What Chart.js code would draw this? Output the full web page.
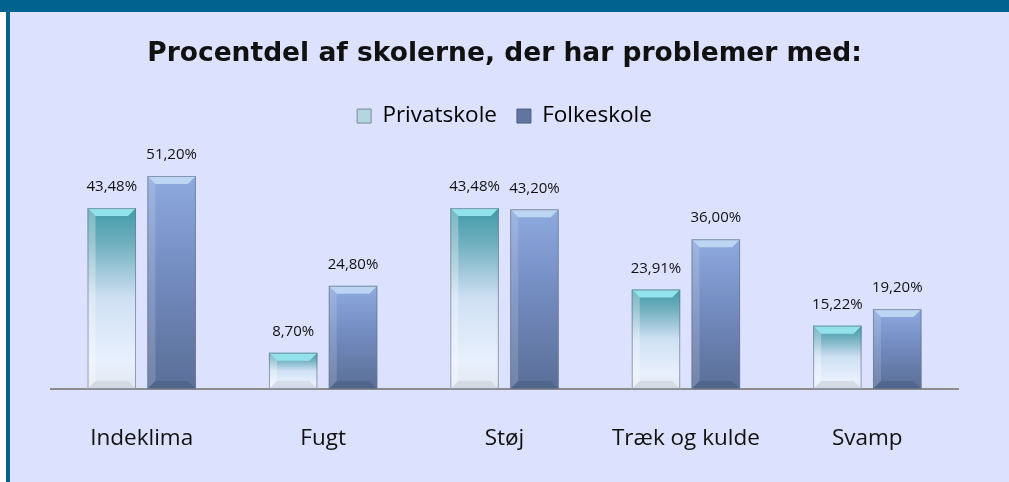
<!DOCTYPE html>
<html>
<head>
<meta charset="utf-8">
<script src="https://cdn.jsdelivr.net/npm/chart.js@4"></script>
<style>
  html, body { margin: 0; padding: 0; background: #fff; overflow: hidden; }
  #topbar { position: absolute; left: 0; top: 0; width: 1009px; height: 12px; background: #01618f; z-index: 2; }
  #leftbar { position: absolute; left: 6px; top: 0; width: 4px; height: 482px; background: #01618f; }
  #panel { position: absolute; left: 10px; top: 12px; width: 999px; height: 470px; background: #dce1fd; overflow: hidden; }
</style>
</head>
<body>
<div id="topbar"></div>
<div id="leftbar"></div>
<div id="panel"><canvas id="chart" width="999" height="476"></canvas></div>
<script>
const categories = ['Indeklima', 'Fugt', 'Støj', 'Træk og kulde', 'Svamp'];
const privatskole = [43.48, 8.70, 43.48, 23.91, 15.22];
const folkeskole = [51.20, 24.80, 43.20, 36.00, 19.20];
const seriesNames = ['Privatskole', 'Folkeskole'];

const FONT = '"Open Sans", sans-serif';

// per-bar vertical gradients, from the bar top down to the baseline
function privatFill(ctx) {
  const chart = ctx.chart;
  const y = chart.scales.y;
  if (!y || ctx.parsed === undefined) return '#8fbccb';
  const top = y.getPixelForValue(ctx.parsed.y);
  const base = y.getPixelForValue(0);
  const g = chart.ctx.createLinearGradient(0, top, 0, base);
  g.addColorStop(0, '#3f9aa8');
  g.addColorStop(0.2, '#72b0c0');
  g.addColorStop(0.5, '#cfe0f3');
  g.addColorStop(0.85, '#e8f0fd');
  g.addColorStop(1, '#e2e8f0');
  return g;
}

function folkeFill(ctx) {
  const chart = ctx.chart;
  const y = chart.scales.y;
  if (!y || ctx.parsed === undefined) return '#6f86b6';
  const top = y.getPixelForValue(ctx.parsed.y);
  const base = y.getPixelForValue(0);
  const g = chart.ctx.createLinearGradient(0, top, 0, base);
  g.addColorStop(0, '#8eaadf');
  g.addColorStop(0.5, '#7189bd');
  g.addColorStop(1, '#5a6f97');
  return g;
}

const capColors = [
  { top: '#92e2ec', side: 'rgba(255,255,255,0.3)', bottom: 'rgba(180,188,200,0.35)' },
  { top: '#bcd5f3', side: 'rgba(255,255,255,0.15)', bottom: 'rgba(60,75,110,0.3)' }
];

// bevel look on each bar
const bevelPlugin = {
  id: 'bevel',
  afterDatasetsDraw(chart) {
    const c = chart.ctx;
    chart.data.datasets.forEach((ds, di) => {
      const meta = chart.getDatasetMeta(di);
      meta.data.forEach(bar => {
        const l = bar.x - bar.width / 2, r = bar.x + bar.width / 2;
        const t = bar.y, b = bar.base;
        const d = Math.min(8, (b - t) / 3);
        c.save();
        c.fillStyle = capColors[di].top;
        c.beginPath();
        c.moveTo(l, t); c.lineTo(r, t); c.lineTo(r - d, t + d); c.lineTo(l + d, t + d);
        c.closePath(); c.fill();
        c.fillStyle = capColors[di].side;
        c.beginPath();
        c.moveTo(l, t); c.lineTo(l + d, t + d); c.lineTo(l + d, b - d); c.lineTo(l, b);
        c.closePath(); c.fill();
        c.fillStyle = capColors[di].bottom;
        c.beginPath();
        c.moveTo(l, b); c.lineTo(l + d, b - d); c.lineTo(r - d, b - d); c.lineTo(r, b);
        c.closePath(); c.fill();
        c.strokeStyle = 'rgba(110,120,140,0.7)';
        c.lineWidth = 1;
        c.strokeRect(l + 0.5, t + 0.5, r - l - 1, b - t - 1);
        c.restore();
      });
    });
  }
};

// value labels above the bars
const valueLabels = {
  id: 'valueLabels',
  afterDatasetsDraw(chart) {
    const c = chart.ctx;
    c.save();
    c.font = '15px ' + FONT;
    c.fillStyle = '#111';
    c.textAlign = 'center';
    c.textBaseline = 'middle';
    chart.data.datasets.forEach((ds, di) => {
      chart.getDatasetMeta(di).data.forEach((bar, i) => {
        const txt = ds.data[i].toFixed(2).replace('.', ',') + '%';
        c.fillText(txt, bar.x, bar.y - 21);
      });
    });
    c.restore();
  }
};

const chart = new Chart(document.getElementById('chart'), {
  type: 'bar',
  data: {
    labels: categories,
    datasets: [
      { label: seriesNames[0], data: privatskole, backgroundColor: privatFill, borderWidth: 0 },
      { label: seriesNames[1], data: folkeskole, backgroundColor: folkeFill, borderWidth: 0 }
    ]
  },
  options: {
    responsive: false,
    animation: false,
    layout: { padding: { left: 41, right: 51, top: 0, bottom: 0 } },
    datasets: { bar: { categoryPercentage: 0.66, barPercentage: 0.81 } },
    scales: {
      x: {
        grid: { display: false, drawTicks: false },
        border: { display: true, color: '#8c8c8c', width: 2 },
        ticks: { color: '#111', font: { family: FONT, size: 22.5 }, padding: 36 }
      },
      y: { display: false, min: 0, max: 60.5 }
    },
    plugins: {
      title: {
        display: true,
        text: 'Procentdel af skolerne, der har problemer med:',
        color: '#111',
        font: { family: '"DejaVu Sans", sans-serif', size: 26.5, weight: 'bold' },
        padding: { top: 26, bottom: 15 }
      },
      legend: {
        labels: {
          color: '#111',
          font: { family: FONT, size: 22.5 },
          boxWidth: 14,
          boxHeight: 14,
          padding: 20,
          generateLabels: () => [
            { text: seriesNames[0], fillStyle: '#b4d6de', strokeStyle: '#7d8a99', lineWidth: 1, datasetIndex: 0 },
            { text: seriesNames[1], fillStyle: '#6076a0', strokeStyle: '#4c5d80', lineWidth: 1, datasetIndex: 1 }
          ]
        }
      },
      tooltip: { enabled: false }
    }
  },
  plugins: [bevelPlugin, valueLabels]
});
</script>
</body>
</html>
